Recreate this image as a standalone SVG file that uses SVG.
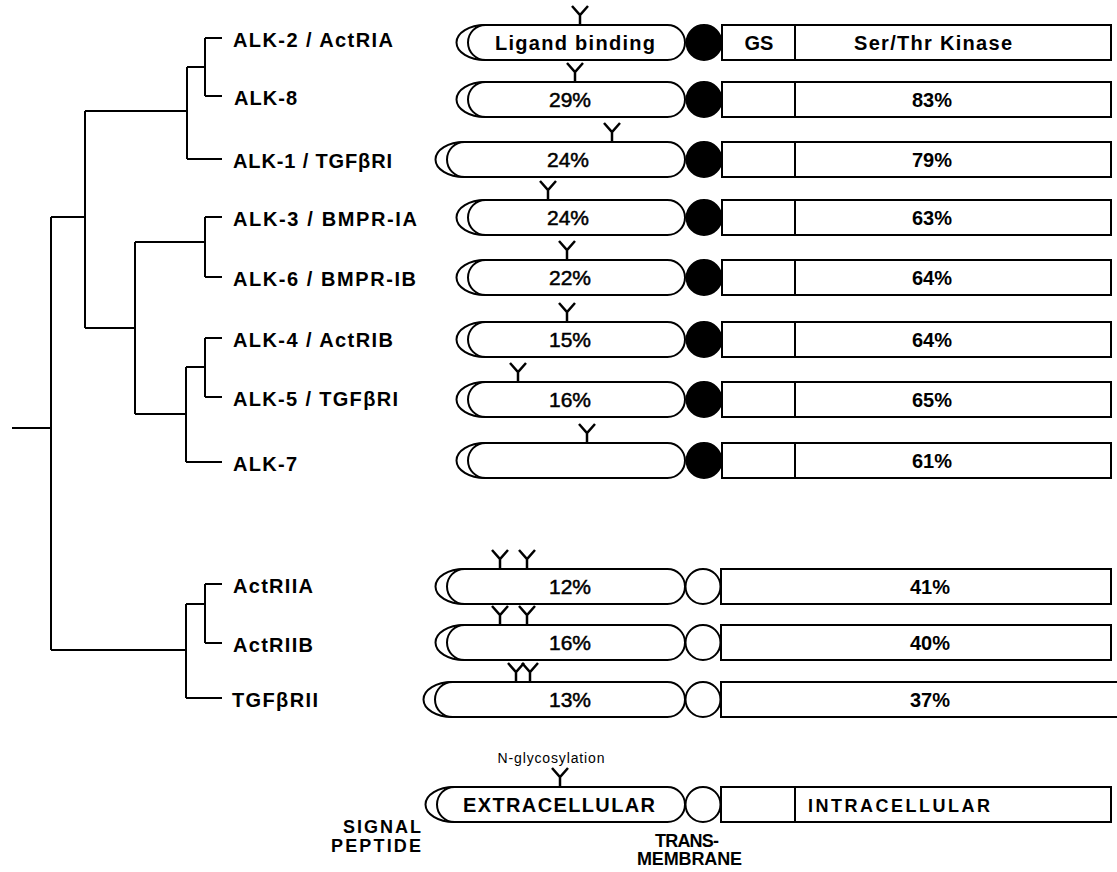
<svg xmlns="http://www.w3.org/2000/svg" width="1117" height="872" viewBox="0 0 1117 872">
<style>
text{font-family:"Liberation Sans",Arial,Helvetica,sans-serif;fill:#000}
.lbl{font-size:20px;font-weight:bold}
.pct{font-size:21px;text-anchor:middle;stroke:#000;stroke-width:0.5}
.kp{font-size:20px;font-weight:bold;text-anchor:middle}
.hd{font-size:20px;font-weight:bold;text-anchor:middle}
.sm{font-size:14px;text-anchor:middle}
.lg{font-size:18px;font-weight:bold}
.sh{fill:#fff;stroke:#000;stroke-width:2}
.tm{fill:#000;stroke:#000;stroke-width:2}
.tmo{fill:#fff;stroke:#000;stroke-width:2}
.tree{fill:none;stroke:#000;stroke-width:2}
</style>
<defs>
<path id="y" d="M -8 0 L 0 9 L 8 0 M 0 9 L 0 19" fill="none" stroke="#000" stroke-width="2.5"/>
</defs>
<g id="connectors" class="tree">
<path d="M12 428H51M51 217V650M51 217H85M85 111V328M85 111H187M187 67V159M187 67H205M205 38V96M205 38H222M205 96H222M187 159H222"/>
<path d="M85 328H135M135 242V414M135 242H205M205 217V277M205 217H222M205 277H222"/>
<path d="M135 414H186M186 367V462M186 367H205M205 338V397M205 338H222M205 397H222M186 462H222"/>
<path d="M51 650H186M186 604V698M186 604H205M205 584V643M205 584H222M205 643H222M186 698H222"/>
</g>
<g id="labels">
<text class="lbl" x="233" y="47" textLength="160">ALK-2 / ActRIA</text>
<text class="lbl" x="234" y="105" textLength="63">ALK-8</text>
<text class="lbl" x="233" y="168" textLength="159">ALK-1 / TGFβRI</text>
<text class="lbl" x="233" y="226" textLength="184">ALK-3 / BMPR-IA</text>
<text class="lbl" x="233" y="286" textLength="183">ALK-6 / BMPR-IB</text>
<text class="lbl" x="233" y="347" textLength="160">ALK-4 / ActRIB</text>
<text class="lbl" x="233" y="406" textLength="165">ALK-5 / TGFβRI</text>
<text class="lbl" x="233" y="471" textLength="64">ALK-7</text>
<text class="lbl" x="233" y="593" textLength="80">ActRIIA</text>
<text class="lbl" x="233" y="652" textLength="80">ActRIIB</text>
<text class="lbl" x="232" y="707" textLength="86">TGFβRII</text>
</g>
<g id="alk2">
<path class="sh" d="M485 25A28.5 17.5 0 0 0 485 60"/>
<rect class="sh" x="468" y="25" width="217" height="35" rx="17.5"/>
<circle class="tm" cx="704" cy="42.5" r="17.5"/>
<rect class="sh" x="722" y="25" width="389" height="35"/>
<line x1="795" y1="25" x2="795" y2="60" stroke="#000" stroke-width="2"/>
<use href="#y" x="580" y="6"/>
<text class="hd" x="575" y="50" textLength="160">Ligand binding</text>
<text class="hd" x="759" y="50">GS</text>
<text class="kp" x="933" y="50" textLength="158">Ser/Thr Kinase</text>
</g>
<g id="alk8">
<path class="sh" d="M485 82A28.5 17.5 0 0 0 485 117"/>
<rect class="sh" x="468" y="82" width="217" height="35" rx="17.5"/>
<circle class="tm" cx="704" cy="99.5" r="17.5"/>
<rect class="sh" x="722" y="82" width="389" height="35"/>
<line x1="795" y1="82" x2="795" y2="117" stroke="#000" stroke-width="2"/>
<use href="#y" x="575" y="63"/>
<text class="pct" x="570" y="107">29%</text>
<text class="kp" x="932" y="107">83%</text>
</g>
<g id="alk1">
<path class="sh" d="M464 142A28.5 17.5 0 0 0 464 177"/>
<rect class="sh" x="447" y="142" width="238" height="35" rx="17.5"/>
<circle class="tm" cx="704" cy="159.5" r="17.5"/>
<rect class="sh" x="722" y="142" width="389" height="35"/>
<line x1="795" y1="142" x2="795" y2="177" stroke="#000" stroke-width="2"/>
<use href="#y" x="612" y="123"/>
<text class="pct" x="568" y="167">24%</text>
<text class="kp" x="932" y="167">79%</text>
</g>
<g id="alk3">
<path class="sh" d="M485 200A28.5 17.5 0 0 0 485 235"/>
<rect class="sh" x="468" y="200" width="217" height="35" rx="17.5"/>
<circle class="tm" cx="704" cy="217.5" r="17.5"/>
<rect class="sh" x="722" y="200" width="389" height="35"/>
<line x1="795" y1="200" x2="795" y2="235" stroke="#000" stroke-width="2"/>
<use href="#y" x="548" y="181"/>
<text class="pct" x="568" y="225">24%</text>
<text class="kp" x="932" y="225">63%</text>
</g>
<g id="alk6">
<path class="sh" d="M485 260A28.5 17.5 0 0 0 485 295"/>
<rect class="sh" x="468" y="260" width="217" height="35" rx="17.5"/>
<circle class="tm" cx="704" cy="277.5" r="17.5"/>
<rect class="sh" x="722" y="260" width="389" height="35"/>
<line x1="795" y1="260" x2="795" y2="295" stroke="#000" stroke-width="2"/>
<use href="#y" x="567" y="241"/>
<text class="pct" x="570" y="285">22%</text>
<text class="kp" x="932" y="285">64%</text>
</g>
<g id="alk4">
<path class="sh" d="M485 322A28.5 17.5 0 0 0 485 357"/>
<rect class="sh" x="468" y="322" width="217" height="35" rx="17.5"/>
<circle class="tm" cx="704" cy="339.5" r="17.5"/>
<rect class="sh" x="722" y="322" width="389" height="35"/>
<line x1="795" y1="322" x2="795" y2="357" stroke="#000" stroke-width="2"/>
<use href="#y" x="567" y="303"/>
<text class="pct" x="570" y="347">15%</text>
<text class="kp" x="932" y="347">64%</text>
</g>
<g id="alk5">
<path class="sh" d="M485 382A28.5 17.5 0 0 0 485 417"/>
<rect class="sh" x="468" y="382" width="217" height="35" rx="17.5"/>
<circle class="tm" cx="704" cy="399.5" r="17.5"/>
<rect class="sh" x="722" y="382" width="389" height="35"/>
<line x1="795" y1="382" x2="795" y2="417" stroke="#000" stroke-width="2"/>
<use href="#y" x="518" y="363"/>
<text class="pct" x="570" y="407">16%</text>
<text class="kp" x="932" y="407">65%</text>
</g>
<g id="alk7">
<path class="sh" d="M485 443A28.5 17.5 0 0 0 485 478"/>
<rect class="sh" x="468" y="443" width="217" height="35" rx="17.5"/>
<circle class="tm" cx="704" cy="460.5" r="17.5"/>
<rect class="sh" x="722" y="443" width="389" height="35"/>
<line x1="795" y1="443" x2="795" y2="478" stroke="#000" stroke-width="2"/>
<use href="#y" x="587" y="424"/>
<text class="kp" x="932" y="468">61%</text>
</g>
<g id="actriia">
<path class="sh" d="M464 569A28.5 17.5 0 0 0 464 604"/>
<rect class="sh" x="447" y="569" width="238" height="35" rx="17.5"/>
<circle class="tmo" cx="703" cy="586.5" r="17.5"/>
<rect class="sh" x="721" y="569" width="390" height="35"/>
<use href="#y" x="500" y="550"/>
<use href="#y" x="527" y="550"/>
<text class="pct" x="570" y="594">12%</text>
<text class="kp" x="930" y="594">41%</text>
</g>
<g id="actriib">
<path class="sh" d="M464 625A28.5 17.5 0 0 0 464 660"/>
<rect class="sh" x="447" y="625" width="238" height="35" rx="17.5"/>
<circle class="tmo" cx="703" cy="642.5" r="17.5"/>
<rect class="sh" x="721" y="625" width="390" height="35"/>
<use href="#y" x="500" y="606"/>
<use href="#y" x="527" y="606"/>
<text class="pct" x="570" y="650">16%</text>
<text class="kp" x="930" y="650">40%</text>
</g>
<g id="tgfbrii">
<path class="sh" d="M452 682A28.5 17.5 0 0 0 452 717"/>
<rect class="sh" x="435" y="682" width="250" height="35" rx="17.5"/>
<circle class="tmo" cx="703" cy="699.5" r="17.5"/>
<rect class="sh" x="721" y="682" width="420" height="35"/>
<use href="#y" x="516" y="663"/>
<use href="#y" x="530" y="663"/>
<text class="pct" x="570" y="707">13%</text>
<text class="kp" x="930" y="707">37%</text>
</g>
<g id="legend">
<path class="sh" d="M454 787A28.5 17.5 0 0 0 454 822"/>
<rect class="sh" x="437" y="787" width="248" height="35" rx="17.5"/>
<circle class="tmo" cx="703" cy="804.5" r="17.5"/>
<rect class="sh" x="721" y="787" width="390" height="35"/>
<line x1="795" y1="787" x2="795" y2="822" stroke="#000" stroke-width="2"/>
<use href="#y" x="560" y="768"/>
<text class="sm" x="551" y="763" textLength="107">N-glycosylation</text>
<text class="hd" x="559" y="812" textLength="192">EXTRACELLULAR</text>
<text class="lg" x="808" y="812" textLength="182">INTRACELLULAR</text>
<text class="lg" x="343" y="833" textLength="78">SIGNAL</text>
<text class="lg" x="331" y="852" textLength="90">PEPTIDE</text>
<text class="lg" x="655" y="847" textLength="64">TRANS-</text>
<text class="lg" x="637" y="865" textLength="105">MEMBRANE</text>
</g>
</svg>
